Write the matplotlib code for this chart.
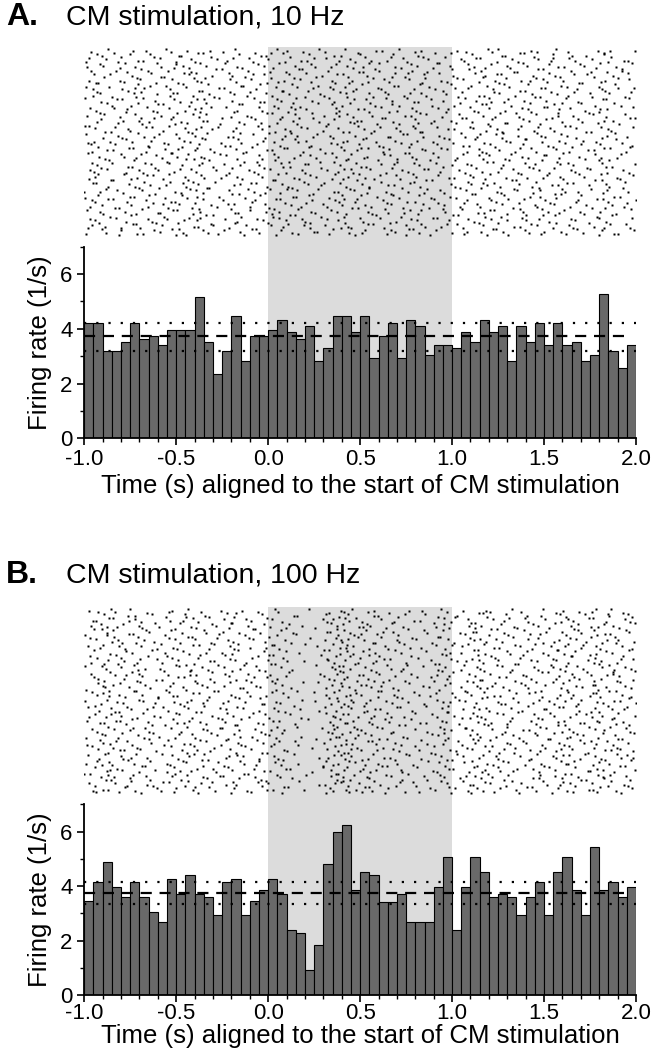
import numpy as np
import matplotlib
matplotlib.use('Agg')
import matplotlib.pyplot as plt
from matplotlib.ticker import MultipleLocator

plt.rcParams['font.family'] = ['Liberation Sans', 'DejaVu Sans']

# ---------------- data ----------------
BIN = 0.05
bin_left = np.round(np.arange(-1.0, 2.0 - 1e-9, BIN), 2)   # 60 bins, -1.0 .. 1.95

# panel A, 10 Hz (firing rate, 1/s)
rate_10hz = [4.21, 4.21, 3.17, 3.17, 3.50, 4.21, 3.62, 3.73, 3.39, 3.96,
             3.96, 3.96, 5.14, 3.50, 2.36, 3.17, 4.45, 2.81, 3.73, 3.73,
             3.97, 4.32, 3.87, 3.62, 4.09, 2.81, 3.28, 4.45, 4.45, 3.87,
             4.45, 2.93, 3.73, 4.21, 2.93, 4.32, 4.09, 3.04, 3.39, 3.39,
             3.28, 3.87, 3.50, 4.32, 3.87, 4.09, 2.81, 4.09, 3.50, 4.21,
             3.39, 4.21, 3.39, 3.50, 2.81, 3.04, 5.26, 3.17, 2.57, 3.39]
mean_10hz = 3.73
band_10hz = (3.17, 4.21)

# panel B, 100 Hz
rate_100hz = [3.45, 4.14, 4.90, 3.98, 3.59, 4.14, 3.59, 3.05, 2.68, 4.25,
              3.71, 4.40, 3.71, 3.59, 2.93, 4.14, 4.25, 2.93, 3.45, 3.84,
              4.25, 3.71, 2.39, 2.27, 0.93, 1.84, 4.80, 5.98, 6.26, 3.84,
              4.52, 4.40, 3.43, 3.43, 3.71, 2.67, 2.67, 2.67, 3.98, 5.06,
              2.39, 3.98, 5.06, 4.52, 3.59, 3.71, 3.59, 2.93, 3.59, 4.14,
              2.93, 4.52, 5.06, 3.84, 2.93, 5.42, 3.84, 4.14, 3.59, 3.98]
mean_100hz = 3.73
band_100hz = (3.36, 4.14)

stim_on, stim_off = 0.0, 1.0
N_TRIALS = 150


def vdc(n, base):
    # van der Corput radical inverse
    q, denom = 0.0, 1.0
    while n:
        n, r = divmod(n, base)
        denom *= base
        q += r / denom
    return q


def raster_from_psth(rates, offset):
    # single dots can't be read off the picture, so the raster is rebuilt from
    # the histogram counts: rate*BIN*N spikes per bin, spread with a leaped Halton set
    tt, rr = [], []
    g = offset
    for left, r in zip(bin_left, rates):
        n = int(round(r * BIN * N_TRIALS))
        for j in range(n):
            g += 1
            k = g * 409
            tt.append(left + BIN * vdc(k, 2))
            rr.append(int(vdc(k, 3) * N_TRIALS))
    return np.array(tt), np.array(rr)


W, H = 654.0, 1050.0


def rect(x0, y0, x1, y1):
    # pixel box (top-left origin) -> figure fraction
    return [x0 / W, 1 - y1 / H, (x1 - x0) / W, (y1 - y0) / H]


fig = plt.figure(figsize=(6.54, 10.5), dpi=100)


def panel(letter, title, rates, mean, band, y_title, y_rast, y_top, y_bot,
          offset, tpad, y_xlab):
    fig.text(6 / W, 1 - y_title / H, letter, fontsize=23, fontweight='bold', va='center')
    fig.text(66 / W, 1 - y_title / H, title, fontsize=20.5, va='center')

    axr = fig.add_axes(rect(84.3, y_rast, 636, y_top))
    axh = fig.add_axes(rect(84.3, y_top, 636, y_bot))

    # raster
    t, tr = raster_from_psth(rates, offset)
    axr.axvspan(stim_on, stim_off, color='#dcdcdc', lw=0, zorder=0)
    axr.plot(t, N_TRIALS - 1 - tr, 's', ms=1.7, color='black', mec='none')
    axr.set_xlim(-1.0, 2.0)
    axr.set_ylim(-9, N_TRIALS + 1)
    axr.set_axis_off()

    # histogram
    axh.axvspan(stim_on, stim_off, color='#dcdcdc', lw=0, zorder=0)
    axh.bar(bin_left, rates, width=BIN, align='edge', color='#696969',
            edgecolor='black', linewidth=0.8, zorder=2)
    axh.axhline(mean, color='black', ls=(0, (5, 3.5)), lw=1.6, xmax=0.99, zorder=3)
    for b in band:
        axh.axhline(b, color='black', ls=(0, (1, 4.5)), lw=1.6, zorder=3)

    axh.set_xlim(-1.0, 2.0)
    axh.set_ylim(0, 7)
    axh.spines['top'].set_visible(False)
    axh.spines['right'].set_visible(False)
    for s in ['left', 'bottom']:
        axh.spines[s].set_linewidth(1.3)
    axh.xaxis.set_major_locator(MultipleLocator(0.5))
    axh.xaxis.set_minor_locator(MultipleLocator(0.1))
    axh.yaxis.set_major_locator(MultipleLocator(2))
    axh.yaxis.set_minor_locator(MultipleLocator(1))
    axh.xaxis.set_major_formatter(plt.FuncFormatter(lambda v, p: '%.1f' % v))
    axh.tick_params(which='major', direction='out', length=5, width=1.2, labelsize=16)
    axh.tick_params(axis='x', which='major', pad=tpad)
    axh.tick_params(which='minor', direction='out', length=3, width=1.0)
    axh.set_xlabel('Time (s) aligned to the start of CM stimulation', fontsize=18.5, va='center')
    axh.xaxis.set_label_coords(0.5, (y_bot - y_xlab) / (y_bot - y_top))
    axh.set_ylabel('Firing rate (1/s)', fontsize=18.5, labelpad=6)
    return axh


panel('A.', 'CM stimulation, 10 Hz', rate_10hz, mean_10hz, band_10hz,
      y_title=17, y_rast=47, y_top=246.5, y_bot=438.3, offset=7, tpad=3, y_xlab=486)
panel('B.', 'CM stimulation, 100 Hz', rate_100hz, mean_100hz, band_100hz,
      y_title=575, y_rast=607, y_top=804.4, y_bot=995, offset=5011, tpad=0.5, y_xlab=1036)

fig.savefig('out.png', dpi=100)
